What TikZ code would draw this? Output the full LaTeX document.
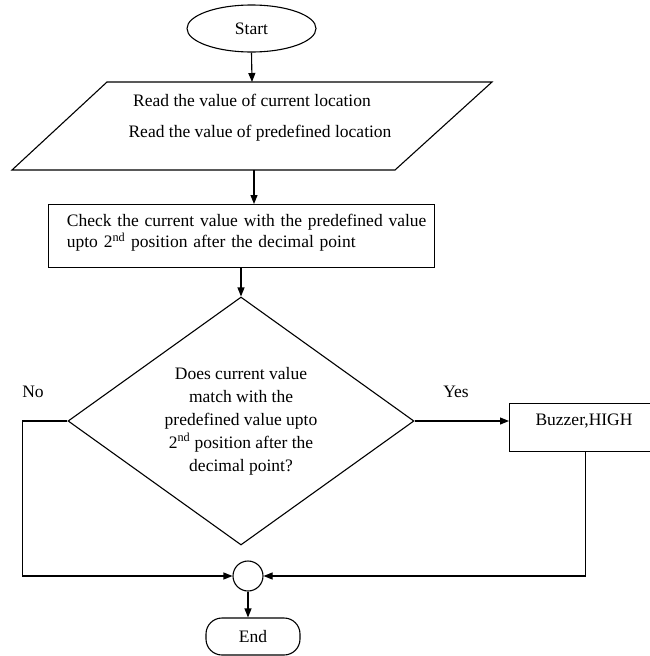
\documentclass[tikz,border=0pt]{standalone}
\usepackage{fontspec}
\setmainfont{Liberation Serif}
\usetikzlibrary{shapes.geometric,arrows.meta,calc}
\begin{document}
\begin{tikzpicture}[x=1pt,y=-1pt,
  line width=1.1pt,
  every node/.style={font=\fontsize{17.5}{21}\selectfont},
  arr/.style={-{Triangle[length=9pt,width=7pt]}},
  boxstyle/.style={draw,rectangle,inner sep=0pt},
]
\useasboundingbox (0,0) rectangle (650,656);
% Start
\node[draw,ellipse,minimum width=129,minimum height=47,inner sep=0pt] (start) at (251.5,28.5) {Start};
% parallelogram input
\draw (107,82) -- (492,82) -- (395,170) -- (12,170) -- cycle;
\coordinate (readtop) at (252,82);
\coordinate (readbot) at (254,170);
\node[align=center] (read1) at (252,100) {Read the value of current location};
\node[align=center] (read2) at (260,133) {Read the value of predefined location};
% check rectangle
\node[boxstyle,minimum width=386,minimum height=63,anchor=north west] (check) at (48,204) {};
\node[align=left,anchor=west,text width=370] (checktxt) at (63,233) {Check the current value with the predefined value\\upto 2\textsuperscript{nd} position after the decimal point};
% decision
\node[draw,diamond,minimum width=346,minimum height=248,shape aspect=1.395,inner sep=0pt] (dec) at (241,421) {};
\node[align=center,font=\fontsize{17.5}{23}\selectfont] (dectxt) at (241,421) {Does current value\\match with the\\predefined value upto\\2\textsuperscript{nd} position after the\\decimal point?};
% buzzer
\node[boxstyle,minimum width=151,minimum height=48,anchor=north west] (buz) at (509,403) {};
\node (buztxt) at (584,421) {Buzzer,HIGH};
% join circle
\node[draw,circle,minimum size=30,inner sep=0pt] (join) at (248,576) {};
% end
\node[draw,rounded corners=16,minimum width=94,minimum height=37,inner sep=0pt] (end) at (253,636.5) {End};
% labels
\node (no) at (33,392) {No};
\node (yes) at (456,392) {Yes};
% connectors
\draw[arr] (start.south) -- (readtop);
\draw[arr] (readbot) -- (readbot |- check.north);
\draw[arr] (check.south -| dec.north) -- (dec.north);
\draw[arr] (dec.east) -- (dec.east -| buz.west);
\draw[arr] (dec.west) -- ++(-45,0) |- (join.west);
\draw[arr] (buz.south) |- (join.east);
\draw[arr] (join.south) -- (join.south |- end.north);
\end{tikzpicture}
\end{document}
